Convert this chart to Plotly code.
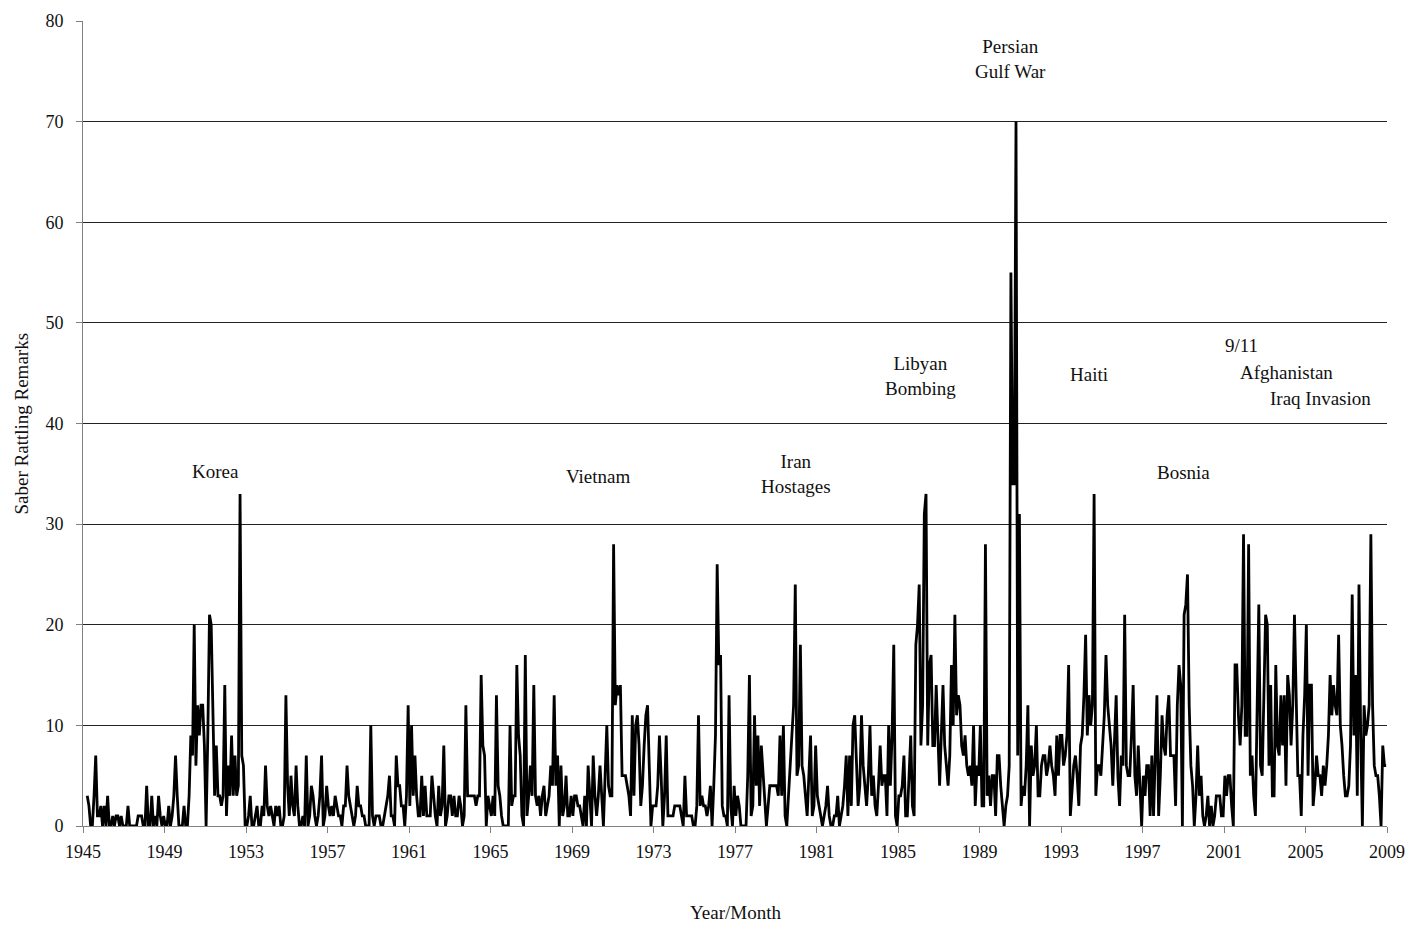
import plotly.graph_objects as go

# Monthly "saber rattling" remark counts, series begins March 1945
start_year = 1945
start_month = 3  # March

r1940s = [
    3, 2, 0, 0, 3, 7, 1, 1, 2, 0,              # 1945 (Mar-Dec)
    2, 0, 3, 0, 0, 1, 0, 1, 1, 0, 1, 0,         # 1946
    0, 0, 2, 0, 0, 0, 0, 0, 1, 1, 1, 0,         # 1947
    0, 4, 0, 0, 3, 0, 1, 0, 3, 1, 0, 1,         # 1948
    0, 0, 2, 0, 1, 3, 7, 3, 0, 0, 0, 2,         # 1949
]
r1950s = [
    0, 0, 3, 9, 7, 20, 6, 12, 9, 12, 12, 8,     # 1950
    0, 9, 21, 20, 12, 3, 8, 3, 3, 2, 3, 14,     # 1951
    1, 6, 3, 9, 3, 7, 3, 4, 33, 7, 6, 0,        # 1952
    0, 1, 3, 0, 0, 1, 2, 0, 0, 2, 1, 6,         # 1953
    2, 1, 2, 1, 0, 2, 1, 2, 0, 0, 1, 13,        # 1954
    4, 1, 5, 2, 1, 6, 2, 0, 0, 1, 0, 7,         # 1955
    0, 1, 4, 3, 1, 0, 1, 3, 7, 0, 1, 4,         # 1956
    2, 1, 2, 1, 3, 2, 1, 1, 0, 2, 2, 6,         # 1957
    3, 2, 1, 0, 1, 4, 2, 2, 1, 1, 0, 0,         # 1958
    0, 10, 1, 0, 1, 1, 1, 0, 0, 1, 2, 3,        # 1959
]
r1960s = [
    5, 1, 1, 0, 7, 4, 4, 2, 2, 0, 3, 12,        # 1960
    2, 10, 3, 7, 3, 1, 1, 5, 1, 4, 1, 1,        # 1961
    1, 5, 3, 1, 0, 4, 1, 2, 8, 0, 1, 3,         # 1962
    3, 1, 3, 1, 1, 3, 2, 0, 1, 12, 3, 3,        # 1963
    3, 3, 3, 2, 3, 3, 15, 8, 7, 0, 3, 2,        # 1964
    1, 3, 1, 13, 4, 3, 1, 0, 0, 0, 0, 10,       # 1965
    2, 3, 3, 16, 9, 7, 1, 0, 17, 1, 3, 6,       # 1966
    3, 14, 3, 2, 3, 1, 3, 4, 1, 2, 3, 6,        # 1967
    4, 13, 4, 7, 0, 6, 1, 2, 5, 1, 1, 3,        # 1968
    1, 3, 3, 2, 2, 1, 0, 3, 0, 6, 3, 0,         # 1969
]
r1970s = [
    7, 3, 1, 3, 6, 3, 0, 5, 10, 4, 3, 3,        # 1970
    28, 12, 14, 13, 14, 5, 5, 5, 4, 3, 1, 11,   # 1971
    3, 10, 11, 8, 2, 4, 8, 11, 12, 6, 0, 2,     # 1972
    2, 2, 4, 9, 5, 0, 3, 9, 1, 1, 1, 1,         # 1973
    2, 2, 2, 2, 1, 0, 5, 1, 1, 1, 1, 0,         # 1974
    0, 2, 11, 2, 3, 2, 2, 1, 2, 4, 0, 4,        # 1975
    9, 26, 16, 17, 2, 1, 1, 0, 13, 2, 0, 4,     # 1976
    1, 3, 2, 0, 0, 0, 0, 5, 15, 1, 2, 11,       # 1977
    4, 9, 2, 8, 5, 3, 0, 2, 4, 4, 4, 4,         # 1978
    4, 3, 9, 3, 10, 1, 0, 3, 6, 9, 12, 24,      # 1979
]
r1980s = [
    5, 6, 18, 6, 5, 3, 1, 5, 9, 1, 2, 8,        # 1980
    3, 2, 1, 0, 1, 2, 4, 1, 0, 0, 1, 1,         # 1981
    3, 0, 1, 2, 4, 7, 1, 7, 2, 10, 11, 6,       # 1982
    2, 4, 11, 6, 4, 2, 5, 10, 3, 5, 2, 1,       # 1983
    4, 8, 4, 5, 5, 1, 10, 4, 9, 18, 1, 0,       # 1984
    3, 3, 4, 7, 1, 1, 5, 9, 2, 1, 18, 20,       # 1985
    24, 8, 12, 31, 33, 8, 16, 17, 8, 8, 14, 9,  # 1986
    4, 9, 14, 8, 6, 4, 7, 16, 10, 21, 11, 13,   # 1987
    12, 8, 7, 9, 6, 5, 6, 4, 10, 2, 6, 5,       # 1988
    10, 2, 2, 28, 3, 5, 2, 5, 5, 1, 7, 7,       # 1989
]
r1990s = [
    4, 2, 0, 2, 3, 6, 55, 34, 34, 70, 7, 31,    # 1990
    2, 4, 3, 6, 12, 0, 8, 5, 6, 10, 3, 3,       # 1991
    6, 7, 7, 5, 6, 8, 6, 5, 3, 9, 5, 9,         # 1992
    9, 6, 7, 9, 16, 1, 4, 6, 7, 5, 2, 8,        # 1993
    9, 13, 19, 9, 13, 10, 12, 33, 3, 6, 6, 5,   # 1994
    8, 11, 17, 12, 10, 8, 4, 9, 13, 5, 2, 7,    # 1995
    6, 21, 6, 5, 5, 9, 14, 5, 3, 8, 3, 0,       # 1996
    5, 3, 6, 6, 1, 7, 1, 8, 13, 1, 5, 11,       # 1997
    8, 7, 11, 13, 7, 7, 7, 2, 12, 16, 14, 0,    # 1998
    21, 22, 25, 12, 6, 4, 0, 3, 8, 3, 5, 1,     # 1999
]
r2000s = [
    0, 1, 3, 0, 2, 0, 1, 3, 3, 3, 1, 1,         # 2000
    5, 3, 5, 5, 2, 0, 16, 16, 11, 8, 12, 29,    # 2001
    9, 9, 28, 5, 7, 3, 1, 11, 22, 6, 5, 13,     # 2002
    21, 20, 6, 14, 3, 3, 16, 8, 7, 13, 8, 13,   # 2003
    4, 15, 13, 8, 12, 21, 11, 5, 5, 1, 9, 13,   # 2004
    20, 5, 14, 14, 2, 4, 7, 5, 5, 3, 6, 4,      # 2005
    6, 9, 15, 11, 14, 12, 11, 19, 10, 8, 5, 3,  # 2006
    3, 4, 8, 23, 9, 15, 3, 24, 9, 0, 12, 9,     # 2007
    10, 12, 29, 12, 6, 5, 5, 3, 0, 8, 6, 6,     # 2008
]

tick_years = list(range(1945, 2010, 4))
y_ticks = list(range(0, 81, 10))

event_labels = ["Korea", "Vietnam", "Iran<br>Hostages", "Libyan<br>Bombing",
                "Persian<br>Gulf War", "Haiti", "Bosnia", "9/11",
                "Afghanistan", "Iraq Invasion"]
event_x = [1951.48, 1970.28, 1979.99, 1986.08, 1990.5, 1994.37, 1998.99,
           2001.87, 2004.08, 2005.75]
event_y = [35.2, 34.7, 35.0, 44.7, 76.2, 44.9, 35.1, 47.8, 45.1, 42.5]

values = r1940s + r1950s + r1960s + r1970s + r1980s + r1990s + r2000s
x = [start_year + (start_month - 1 + i + 0.5) / 12 for i in range(len(values))]

FONT = "Liberation Serif"
INK = "#111111"

fig = go.Figure()
fig.add_trace(go.Scatter(
    x=x, y=values, mode="lines",
    line=dict(color="black", width=2.8),
    hoverinfo="skip", showlegend=False,
))

for lbl, ex, ey in zip(event_labels, event_x, event_y):
    fig.add_annotation(x=ex, y=ey, text=lbl, showarrow=False,
                       font=dict(family=FONT, size=19, color=INK),
                       xanchor="center", yanchor="middle", align="center")

# axis titles as paper-anchored annotations (avoid automargin changes)
fig.add_annotation(x=0.5, y=-0.108, xref="paper", yref="paper",
                   text="Year/Month", showarrow=False,
                   font=dict(family=FONT, size=19, color=INK),
                   xanchor="center", yanchor="middle")
fig.add_annotation(x=-0.0468, y=0.5, xref="paper", yref="paper",
                   text="Saber Rattling Remarks", showarrow=False, textangle=-90,
                   font=dict(family=FONT, size=19, color=INK),
                   xanchor="center", yanchor="middle")

fig.update_layout(
    width=1406, height=919,
    margin=dict(l=75, r=27, t=13, b=101),
    paper_bgcolor="white", plot_bgcolor="white",
    font=dict(family=FONT, size=18, color=INK),
    xaxis=dict(
        range=[1945, 2009], tickmode="array", tickvals=tick_years,
        ticktext=[str(t) for t in tick_years],
        ticks="outside", ticklen=6, tickcolor="#808080",
        showline=True, linecolor="#808080", linewidth=1,
        showgrid=False, zeroline=False, automargin=False,
        ticklabelstandoff=3,
        tickfont=dict(family=FONT, size=18, color=INK),
    ),
    yaxis=dict(
        range=[0, 80], tickmode="array", tickvals=y_ticks,
        ticks="outside", ticklen=6, tickcolor="#808080",
        showline=True, linecolor="#808080", linewidth=1,
        showgrid=True, gridcolor="#222222", gridwidth=1,
        zeroline=False, automargin=False,
        ticklabelstandoff=9,
        tickfont=dict(family=FONT, size=18, color=INK),
    ),
)

fig.write_html("out.html")
